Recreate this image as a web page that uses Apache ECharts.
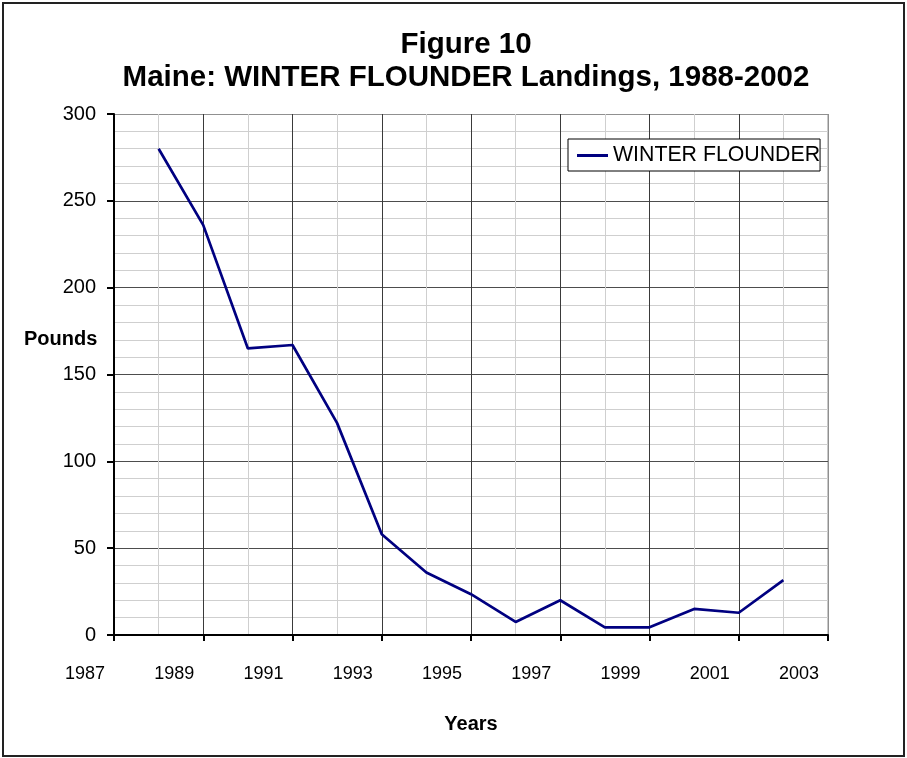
<!DOCTYPE html>
<html>
<head>
<meta charset="utf-8">
<script src="https://cdn.jsdelivr.net/npm/echarts@6/dist/echarts.min.js"></script>
<style>html,body{margin:0;padding:0;background:#fff}#c{width:907px;height:758px}</style>
</head>
<body>
<div id="c"></div>
<script>
const years = [1988,1989,1990,1991,1992,1993,1994,1995,1996,1997,1998,1999,2000,2001,2002];
const pounds = [280,236,165,167,122,58,36,23.5,7.5,20,4.4,4.4,15,12.8,31.6];
const seriesName = 'WINTER FLOUNDER';
const titleLines = ['Figure 10', 'Maine: WINTER FLOUNDER Landings, 1988-2002'];
const FONT = 'Arial, "Liberation Sans", sans-serif';

const chart = echarts.init(document.getElementById('c'), null, {renderer:'canvas'});
chart.setOption({
  animation:false,
  backgroundColor:'#fff',
  title:{
    text: titleLines.join('\n'),
    left: 461, top: 23, textAlign:'center',
    textStyle:{fontFamily:FONT, fontSize:29.5, fontWeight:'bold', color:'#000', lineHeight:33}
  },
  legend:{
    data:[seriesName],
    left:568, top:139,
    orient:'horizontal',
    icon:'rect', itemWidth:31, itemHeight:3,
    itemGap:0,
    padding:[6,0,5,9],
    borderColor:'#000', borderWidth:1,
    backgroundColor:'#fff',
    textStyle:{fontFamily:FONT, fontSize:21.3, color:'#000', padding:[0,0,0,0]}
  },
  grid:{left:114, top:114, right:79, bottom:123, show:false},
  xAxis:{
    type:'value', min:1987, max:2003, interval:2,
    name:'Years', nameLocation:'middle', nameGap:79,
    nameTextStyle:{fontFamily:FONT, fontSize:20, fontWeight:'bold', color:'#000'},
    axisLine:{show:true, onZero:false, lineStyle:{color:'#000', width:2}},
    axisTick:{show:true, length:6, lineStyle:{color:'#000', width:2}},
    axisLabel:{fontFamily:FONT, fontSize:18, color:'#000', margin:30, padding:[0,58,0,0],
      formatter:v=>String(v)},
    splitLine:{show:true, lineStyle:{color:['#3a3a3a','#3a3a3a','#3a3a3a','#3a3a3a','#3a3a3a','#3a3a3a','#3a3a3a','#3a3a3a','#909090'], width:1}},
    minorTick:{show:false, splitNumber:2},
    minorSplitLine:{show:true, lineStyle:{color:'#cfcfcf', width:1}}
  },
  yAxis:{
    type:'value', min:0, max:300, interval:50,
    axisLine:{show:true, lineStyle:{color:'#000', width:2}},
    axisTick:{show:true, length:7, lineStyle:{color:'#000', width:2}},
    axisLabel:{fontFamily:FONT, fontSize:20, color:'#000', margin:18},
    splitLine:{show:true, lineStyle:{color:['#4d4d4d','#4d4d4d','#4d4d4d','#4d4d4d','#4d4d4d','#4d4d4d','#909090'], width:1}},
    minorTick:{show:false, splitNumber:5},
    minorSplitLine:{show:true, lineStyle:{color:'#cfcfcf', width:1}}
  },
  graphic:[
    {type:'rect', shape:{x:3, y:3, width:901, height:753}, style:{fill:'none', stroke:'#222', lineWidth:2}, silent:true, z:-1},
    {type:'line', shape:{x1:828, y1:114, x2:828, y2:635}, style:{stroke:'#909090', lineWidth:1}, z:-1},
    {type:'text', left:24, top:329, style:{text:'Pounds', font:'bold 20px ' + FONT, fill:'#000'}}
  ],
  series:[{
    name:seriesName, type:'line',
    data: years.map((y,i)=>[y, pounds[i]]),
    symbol:'none', showSymbol:false,
    lineStyle:{color:'#000080', width:2.7},
    itemStyle:{color:'#000080'}
  }]
});
</script>
</body>
</html>
